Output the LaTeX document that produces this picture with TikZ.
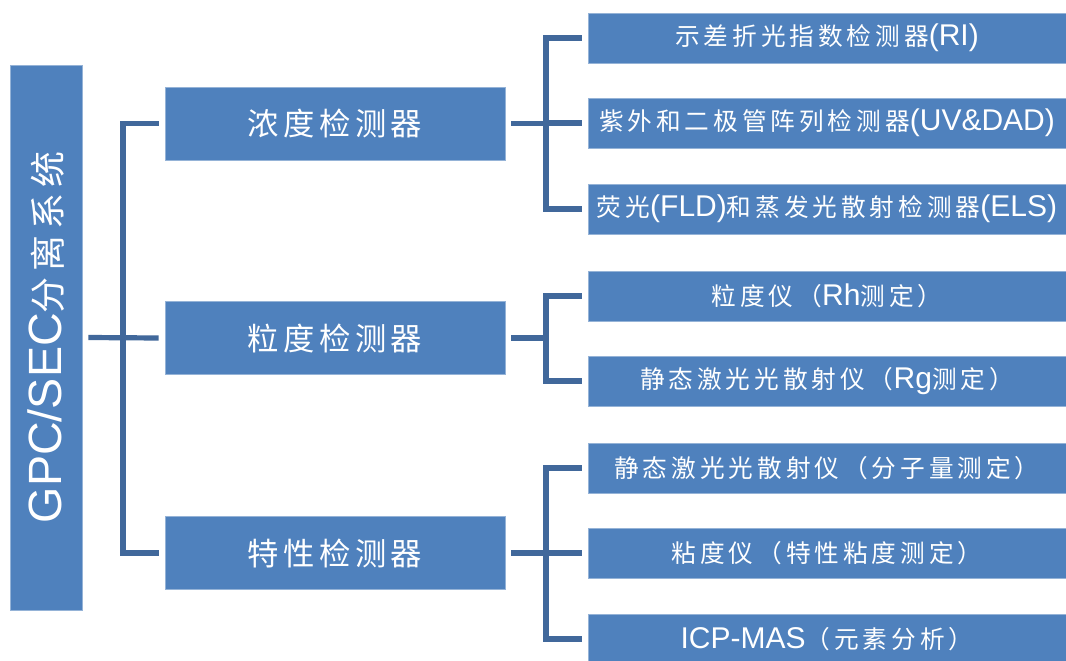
\documentclass[tikz,border=0pt]{standalone}
\usepackage{fontspec}
\setmainfont{Liberation Sans}
\newfontfamily\cjkleaf[LetterSpace=16]{Noto Sans CJK SC}
\newfontfamily\cjkmid[LetterSpace=14]{Noto Sans CJK SC}
\newfontfamily\cjkroot[LetterSpace=16]{Noto Sans CJK SC}
\newcommand{\leafcjk}[1]{{\fontsize{18.5pt}{22pt}\selectfont\cjkleaf #1}}
\newcommand{\leaflat}[1]{{\fontsize{22.5pt}{26pt}\selectfont #1}}
\newcommand{\midcjk}[1]{{\fontsize{23.5pt}{28pt}\selectfont\cjkmid #1}}
\newcommand{\rootcjk}[1]{{\fontsize{27pt}{32pt}\selectfont\cjkroot #1}}
\newcommand{\rootlat}[1]{{\fontsize{35pt}{40pt}\selectfont #1}}
\definecolor{boxblue}{HTML}{4F81BD}
\definecolor{linkblue}{HTML}{41689B}
\begin{document}
\begin{tikzpicture}[x=0.75pt,y=-0.75pt,
  box/.style={fill=boxblue, draw=boxblue!60!white, line width=0.6pt, text=white, inner sep=0pt, align=center},
  rootbox/.style={box, minimum width=408.75pt, minimum height=54pt, rotate=90},
  midbox/.style={box, minimum width=255pt, minimum height=54.75pt},
  leafbox/.style={box, minimum width=358.5pt, minimum height=37.5pt},
  link/.style={draw=linkblue, line width=3.9pt, line cap=butt}]
\useasboundingbox (0,0) rectangle (1066,660);
\fill[white] (0,0) rectangle (1066,660);
% root
\node[rootbox] (root) at (46,337.5) {\rootlat{GPC/SEC}\rootcjk{分离系统}};
% level 2
\node[midbox] (c1) at (335,123.5) {\midcjk{浓度检测器}};
\node[midbox] (c2) at (335,338) {\midcjk{粒度检测器}};
\node[midbox] (c3) at (335,553) {\midcjk{特性检测器}};
% leaves
\node[leafbox] (l1) at (827,38) {\leafcjk{示差折光指数检测器}\leaflat{(RI)}};
\node[leafbox] (l2) at (827,123) {\leafcjk{紫外和二极管阵列检测器}\leaflat{(UV\&DAD)}};
\node[leafbox] (l3) at (827,209) {\leafcjk{荧光}\leaflat{(FLD)}\leafcjk{和蒸发光散射检测器}\leaflat{(ELS)}};
\node[leafbox] (l4) at (827,296) {\leafcjk{粒度仪（}\leaflat{Rh}\leafcjk{测定）}};
\node[leafbox] (l5) at (827,381) {\leafcjk{静态激光光散射仪（}\leaflat{Rg}\leafcjk{测定）}};
\node[leafbox] (l6) at (827,468) {\leafcjk{静态激光光散射仪（分子量测定）}};
\node[leafbox] (l7) at (827,553) {\leafcjk{粘度仪（特性粘度测定）}};
\node[leafbox] (l8) at (827,639) {\leaflat{ICP-MAS}\leafcjk{（元素分析）}};
% bus coordinates
\coordinate (b0) at (123,0);
\coordinate (b1) at (546,0);
% root connectors
\draw[link] ([xshift=4.5pt]root.south) -- ([xshift=-4.5pt]c2.west);
\draw[link, line join=miter] ([xshift=-4.5pt]c1.west) -| (b0 |- c3.west) -- ([xshift=-4.5pt]c3.west);
% group 1
\draw[link] ([xshift=4.5pt]c1.east) -- (b1 |- c1.east);
\draw[link, line join=miter] ([xshift=-4.5pt]l1.west) -| (b1 |- l3.west) -- ([xshift=-4.5pt]l3.west);
\draw[link] (b1 |- l2.west) -- ([xshift=-4.5pt]l2.west);
% group 2
\draw[link] ([xshift=4.5pt]c2.east) -- (b1 |- c2.east);
\draw[link, line join=miter] ([xshift=-4.5pt]l4.west) -| (b1 |- l5.west) -- ([xshift=-4.5pt]l5.west);
% group 3
\draw[link] ([xshift=4.5pt]c3.east) -- (b1 |- c3.east);
\draw[link, line join=miter] ([xshift=-4.5pt]l6.west) -| (b1 |- l8.west) -- ([xshift=-4.5pt]l8.west);
\draw[link] (b1 |- l7.west) -- ([xshift=-4.5pt]l7.west);
\end{tikzpicture}
\end{document}
